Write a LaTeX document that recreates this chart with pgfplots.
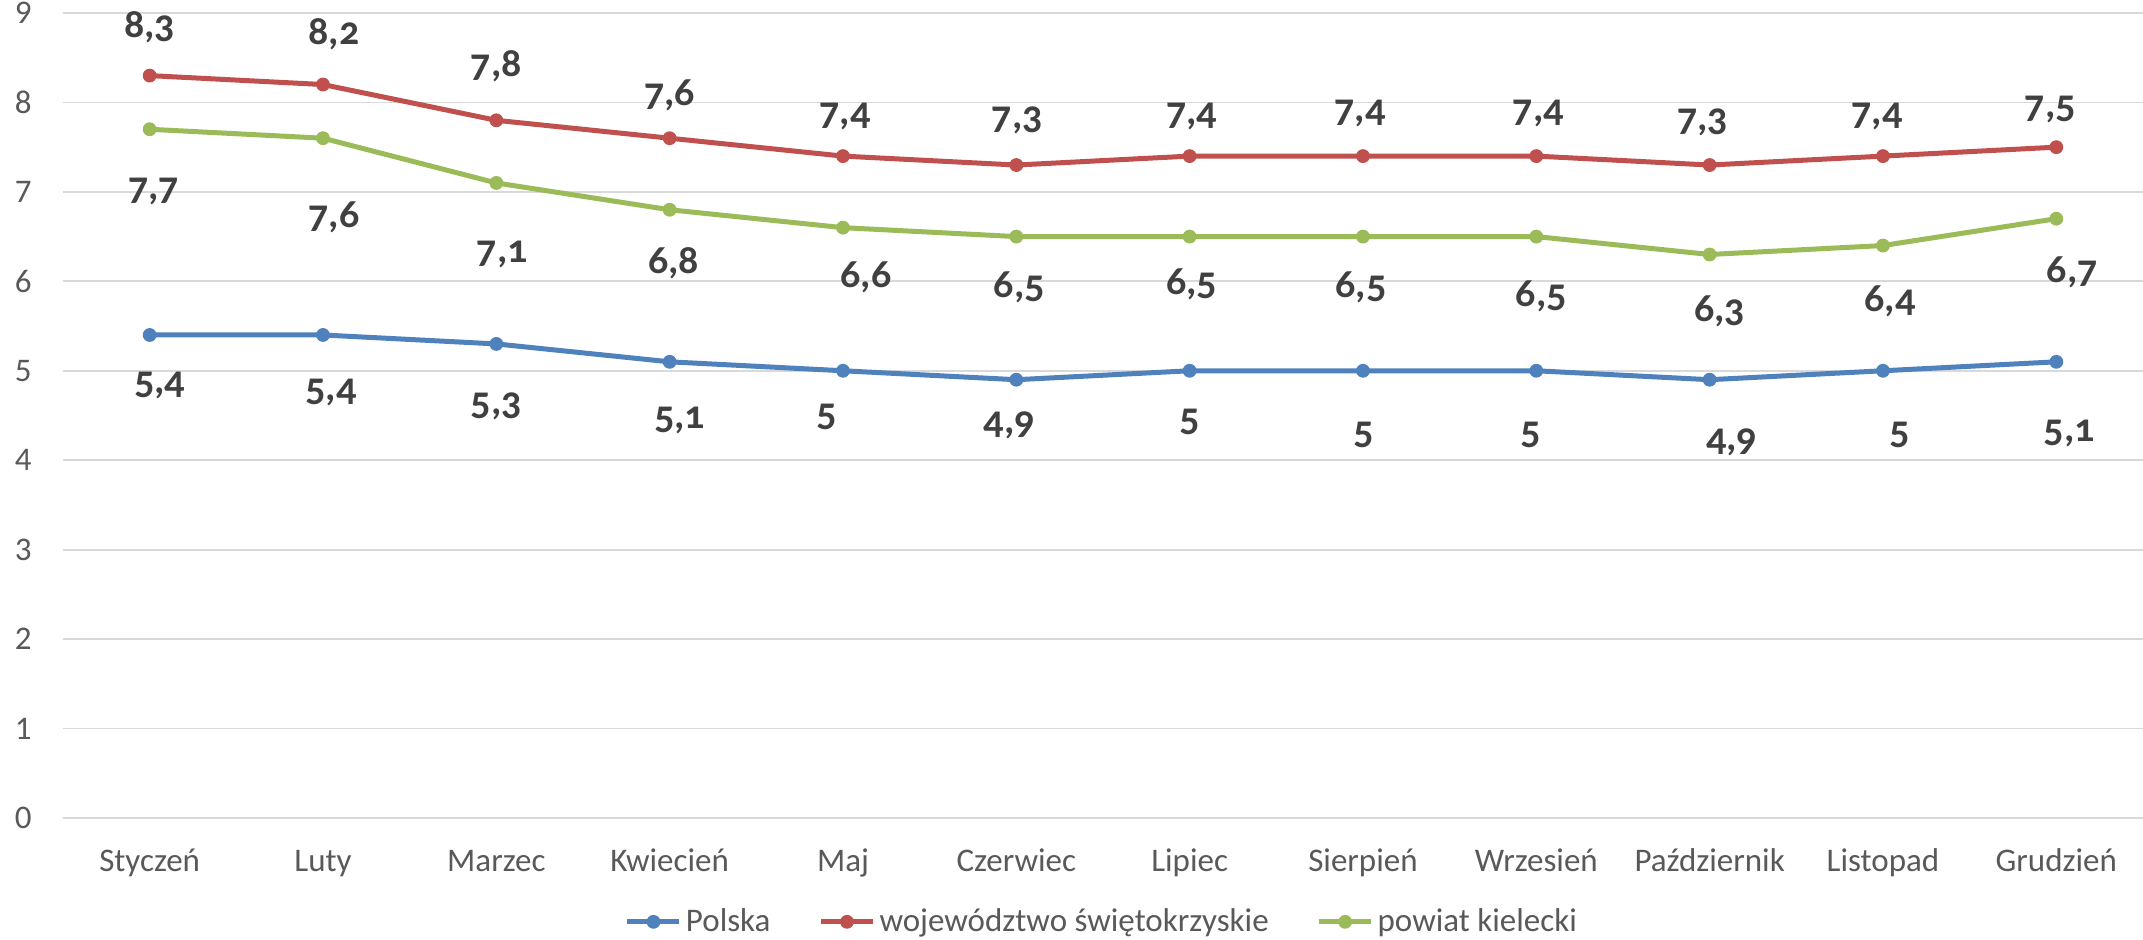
\documentclass[border=0pt]{standalone}
\usepackage{fontspec}
\setmainfont{Carlito}
\newfontfamily\lblfont[Numbers=OldStyle]{Carlito}
\usepackage{pgfplots}
\usepackage{pgfplotstable}
\pgfplotsset{compat=1.18}
\definecolor{cP}{HTML}{4F81BD}
\definecolor{cW}{HTML}{C0504D}
\definecolor{cK}{HTML}{9BBB59}
\definecolor{gridc}{HTML}{D9D9D9}
\definecolor{tickc}{HTML}{595959}
\definecolor{lblc}{HTML}{404040}

\pgfplotstableread{
x y dx dy lab
0 5.4 5 -25.5 5,4
1 5.4 4 -29 5,4
2 5.3 0 -31 5,3
3 5.1 5 -29.5 5,1
4 5.0 -8 -23 5
5 4.9 -3.5 -23 4,9
6 5.0 0 -25.5 5
7 5.0 0.5 -32 5
8 5.0 -3 -32 5
9 4.9 11 -31.5 4,9
10 5.0 8.5 -32 5
11 5.1 6.5 -36 5,1
}\polska

\pgfplotstableread{
x y dx dy lab
0 8.3 0 24 8,3
1 8.2 5.5 25 8,2
2 7.8 0 27 7,8
3 7.6 0 21.5 7,6
4 7.4 1 20 7,4
5 7.3 0.5 22.5 7,3
6 7.4 1 20 7,4
7 7.4 -1.5 21.5 7,4
8 7.4 1 21.5 7,4
9 7.3 -3.5 21.5 7,3
10 7.4 -3 20 7,4
11 7.5 -3 19 7,5
}\woj

\pgfplotstableread{
x y dx dy lab
0 7.7 2 -31 7,7
1 7.6 5.5 -39.5 7,6
2 7.1 3 -36 7,1
3 6.8 2 -26.5 6,8
4 6.6 11.5 -25 6,6
5 6.5 1.5 -25.5 6,5
6 6.5 1 -24 6,5
7 6.5 -1 -25.5 6,5
8 6.5 2.5 -30 6,5
9 6.3 5 -28.5 6,3
10 6.4 3.5 -28 6,4
11 6.7 8 -27 6,7
}\powiat

\begin{document}
\begin{tikzpicture}
\begin{axis}[
  scale only axis, width=1040pt, height=402.5pt,
  xmin=-0.5, xmax=11.5, ymin=0, ymax=9,
  ytick={0,1,...,9}, xtick={0,1,...,11},
  xticklabels={Styczeń, Luty, Marzec, Kwiecień, Maj, Czerwiec, Lipiec, Sierpień, Wrzesień, Październik, Listopad, Grudzień},
  ymajorgrids, grid style={draw=gridc, line width=0.9pt},
  axis line style={draw=none}, major tick length=0pt,
  tick label style={font=\fontsize{16.5}{19}\selectfont, text=tickc},
  /pgf/number format/assume math mode=true,
  yticklabel style={anchor=east, inner sep=0pt, xshift=-15.5pt},
  xticklabel style={anchor=base, inner sep=0pt, yshift=-27pt},
  clip=false,
  legend columns=3,
  legend style={at={(0.5,-0.129)}, anchor=center, draw=none, fill=none,
    font=\fontsize{16.5}{19}\selectfont, text=tickc,
    /tikz/every even column/.append style={column sep=22pt}},
  legend image code/.code={\draw[mark repeat=2,mark phase=2,#1] plot coordinates {(0pt,0pt) (13pt,0pt) (26pt,0pt)};},
  every axis plot/.append style={line width=2.5pt, mark=*, mark size=3.2pt, mark options={line width=0.5pt}},
  point meta=explicit symbolic,
  nodes near coords,
  every node near coord/.append style={anchor=center, inner sep=0pt,
    font=\lblfont\bfseries\fontsize{20}{22}\selectfont, text=lblc},
]
\addplot[color=cP, visualization depends on={\thisrow{dx} \as \dx}, visualization depends on={\thisrow{dy} \as \dy},
  every node near coord/.append style={xshift=\dx pt, yshift=\dy pt}]
  table[x=x, y=y, meta=lab] {\polska};
\addlegendentry{Polska}
\addplot[color=cW, visualization depends on={\thisrow{dx} \as \dx}, visualization depends on={\thisrow{dy} \as \dy},
  every node near coord/.append style={xshift=\dx pt, yshift=\dy pt}]
  table[x=x, y=y, meta=lab] {\woj};
\addlegendentry{województwo świętokrzyskie}
\addplot[color=cK, visualization depends on={\thisrow{dx} \as \dx}, visualization depends on={\thisrow{dy} \as \dy},
  every node near coord/.append style={xshift=\dx pt, yshift=\dy pt}]
  table[x=x, y=y, meta=lab] {\powiat};
\addlegendentry{powiat kielecki}
\coordinate (O) at (rel axis cs:0,0);
\end{axis}
\pgfresetboundingbox
\path[use as bounding box] ([shift={(-31.5pt,-61pt)}]O) rectangle ++(1071.5pt,470pt);
\end{tikzpicture}
\end{document}
